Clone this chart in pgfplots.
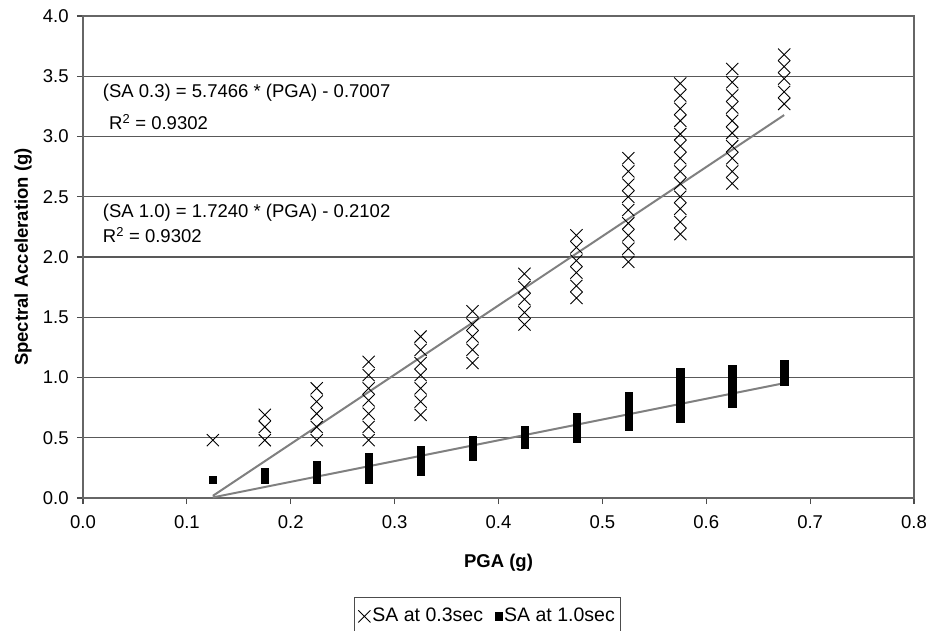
\documentclass[border=0pt]{standalone}
\usepackage{fontspec}
\setmainfont{Liberation Sans}
\usepackage{pgfplots}
\pgfplotsset{compat=1.18}

\begin{document}
\fontsize{18.5}{22}\selectfont
\begin{tikzpicture}
\begin{axis}[
    width=831pt, height=482pt, scale only axis,
    xmin=0, xmax=0.8, ymin=0, ymax=4,
    xtick={0,0.1,0.2,0.3,0.4,0.5,0.6,0.7,0.8},
    ytick={0,0.5,1,1.5,2,2.5,3,3.5,4},
    /pgf/number format/assume math mode=true,
    /pgf/number format/.cd, fixed, fixed zerofill, precision=1, /pgfplots/.cd,
    xticklabel style={yshift=-5pt},
    yticklabel style={xshift=-2pt},
    ymajorgrids,
    major grid style={black!65, line width=1.1pt},
    axis line style={black!60, line width=1.1pt},
    tick style={black!70, line width=1.1pt},
    tick align=outside, major tick length=6pt,
    xtick pos=left, ytick pos=left,
    xlabel={\bfseries PGA (g)},
    ylabel={\bfseries Spectral Acceleration (g)},
    every axis x label/.style={at={(axis description cs:0.5,-0.135)}, anchor=center},
    every axis y label/.style={at={(axis description cs:-0.072,0.5)}, rotate=90, anchor=center},
    legend style={at={(axis description cs:0.326,-0.205)}, anchor=north west,
        draw=black!70, line width=0.8pt, legend columns=2,
        font=\fontsize{19.5}{23}\selectfont,
        inner xsep=4pt, inner ysep=9pt,
        /tikz/every even column/.append style={column sep=10pt}},
    legend cell align=left,
]
% trend lines
\addplot[forget plot, draw=black!50, line width=2pt] coordinates {(0.125,0.018) (0.675,3.178)};
\addplot[forget plot, draw=black!50, line width=2pt] coordinates {(0.125,0.005) (0.675,0.953)};

\addplot[only marks, mark=x, mark size=8.6pt, black, line width=0.9pt] table {
x y
0.125 0.48
0.175 0.48
0.175 0.59
0.175 0.69
0.225 0.48
0.225 0.59
0.225 0.70
0.225 0.80
0.225 0.91
0.275 0.48
0.275 0.59
0.275 0.70
0.275 0.81
0.275 0.91
0.275 1.02
0.275 1.13
0.325 0.69
0.325 0.80
0.325 0.91
0.325 1.02
0.325 1.12
0.325 1.23
0.325 1.34
0.375 1.12
0.375 1.23
0.375 1.34
0.375 1.44
0.375 1.55
0.425 1.44
0.425 1.54
0.425 1.65
0.425 1.75
0.425 1.86
0.475 1.66
0.475 1.76
0.475 1.87
0.475 1.97
0.475 2.08
0.475 2.18
0.525 1.96
0.525 2.07
0.525 2.18
0.525 2.28
0.525 2.39
0.525 2.50
0.525 2.60
0.525 2.71
0.525 2.82
0.575 2.19
0.575 2.29
0.575 2.40
0.575 2.50
0.575 2.61
0.575 2.71
0.575 2.82
0.575 2.92
0.575 3.02
0.575 3.13
0.575 3.23
0.575 3.34
0.575 3.44
0.625 2.61
0.625 2.71
0.625 2.82
0.625 2.92
0.625 3.03
0.625 3.13
0.625 3.24
0.625 3.34
0.625 3.45
0.625 3.56
0.675 3.27
0.675 3.37
0.675 3.48
0.675 3.58
0.675 3.68
};
\addlegendentry{SA at 0.3sec}

\addplot[only marks, mark=square*, mark size=3.6pt, black] table {
x y
0.125 0.155
0.175 0.155
0.175 0.185
0.175 0.215
0.225 0.155
0.225 0.185
0.225 0.215
0.225 0.245
0.225 0.275
0.275 0.155
0.275 0.19
0.275 0.22
0.275 0.25
0.275 0.28
0.275 0.31
0.275 0.345
0.325 0.22
0.325 0.25
0.325 0.28
0.325 0.31
0.325 0.34
0.325 0.37
0.325 0.40
0.375 0.34
0.375 0.37
0.375 0.40
0.375 0.43
0.375 0.46
0.375 0.48
0.425 0.44
0.425 0.47
0.425 0.50
0.425 0.53
0.425 0.57
0.475 0.49
0.475 0.52
0.475 0.55
0.475 0.58
0.475 0.61
0.475 0.64
0.475 0.67
0.525 0.59
0.525 0.62
0.525 0.65
0.525 0.68
0.525 0.71
0.525 0.74
0.525 0.77
0.525 0.80
0.525 0.83
0.525 0.85
0.575 0.66
0.575 0.69
0.575 0.72
0.575 0.75
0.575 0.78
0.575 0.81
0.575 0.84
0.575 0.87
0.575 0.90
0.575 0.93
0.575 0.96
0.575 0.99
0.575 1.02
0.575 1.05
0.625 0.78
0.625 0.81
0.625 0.84
0.625 0.87
0.625 0.90
0.625 0.93
0.625 0.96
0.625 0.99
0.625 1.02
0.625 1.05
0.625 1.07
0.675 0.97
0.675 1.00
0.675 1.03
0.675 1.06
0.675 1.09
0.675 1.11
};
\addlegendentry{SA at 1.0sec}

\node[anchor=west, inner sep=0pt] at (axis cs:0.019,3.36) {(SA 0.3) = 5.7466 * (PGA) - 0.7007};
\node[anchor=west, inner sep=0pt] at (axis cs:0.025,3.12) {R\textsuperscript{2} = 0.9302};
\node[anchor=west, inner sep=0pt] at (axis cs:0.019,2.37) {(SA 1.0) = 1.7240 * (PGA) - 0.2102};
\node[anchor=west, inner sep=0pt] at (axis cs:0.019,2.18) {R\textsuperscript{2} = 0.9302};
\end{axis}
\pgfresetboundingbox
\path[use as bounding box] ([xshift=-83pt,yshift=-132pt]current axis.south west) rectangle ([xshift=845pt,yshift=498pt]current axis.south west);
\end{tikzpicture}
\end{document}
